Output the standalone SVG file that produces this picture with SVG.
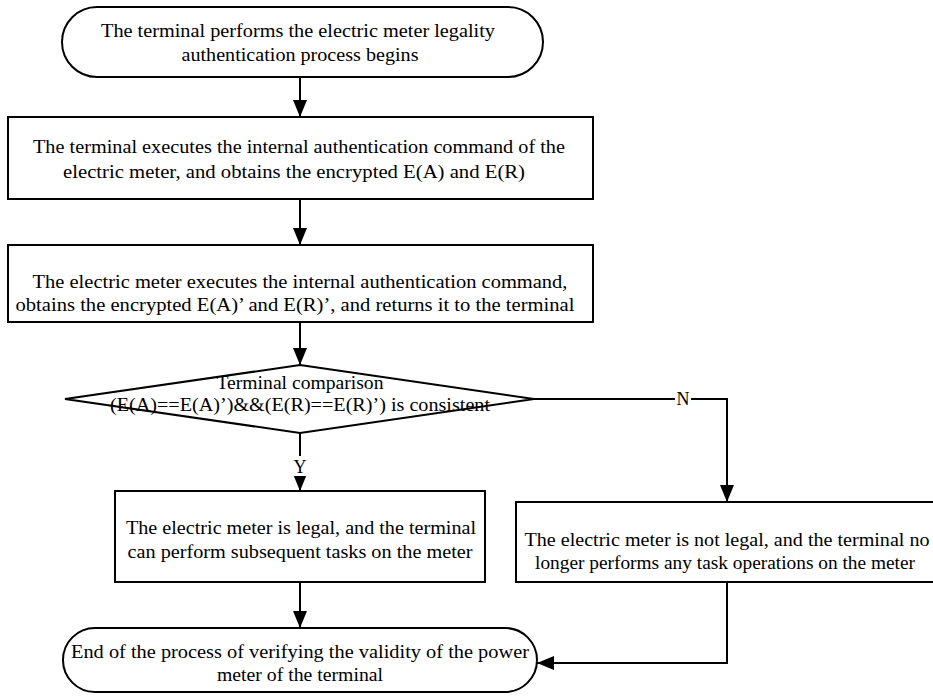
<svg xmlns="http://www.w3.org/2000/svg" width="933" height="699" viewBox="0 0 933 699">
<style>
.s{fill:#fff;stroke:#000;stroke-width:2}
.t{font-family:'Liberation Serif','Times New Roman',serif;font-size:18px;fill:#000;text-anchor:middle}
.c{fill:none;stroke:#000;stroke-width:2}
</style>
<defs>
<marker id="ah" markerWidth="17" markerHeight="14" refX="17" refY="7" orient="auto" markerUnits="userSpaceOnUse">
<path d="M0,0 L17,7 L0,14 Z" fill="#000"/>
</marker>
</defs>
<rect width="933" height="699" fill="#fff"/>
<g id="start">
<rect class="s" x="62" y="7" width="481" height="70" rx="35" ry="35"/>
<text class="t" x="298" y="37" textLength="394" lengthAdjust="spacingAndGlyphs">The terminal performs the electric meter legality</text>
<text class="t" x="300" y="61" textLength="237" lengthAdjust="spacingAndGlyphs">authentication process begins</text>
</g>
<g id="box1">
<rect class="s" x="8" y="117" width="585" height="82"/>
<text class="t" x="299" y="153" textLength="532" lengthAdjust="spacingAndGlyphs">The terminal executes the internal authentication command of the</text>
<text class="t" x="294" y="178" textLength="462" lengthAdjust="spacingAndGlyphs">electric meter, and obtains the encrypted E(A) and E(R)</text>
</g>
<g id="box2">
<rect class="s" x="8" y="245" width="585" height="77"/>
<text class="t" x="300" y="288" textLength="535" lengthAdjust="spacingAndGlyphs">The electric meter executes the internal authentication command,</text>
<text class="t" x="295" y="311" textLength="559" lengthAdjust="spacingAndGlyphs">obtains the encrypted E(A)’ and E(R)’, and returns it to the terminal</text>
</g>
<g id="decision">
<polygon class="s" points="300,365 534,399 300,433 65,399"/>
<text class="t" x="300" y="389" textLength="167" lengthAdjust="spacingAndGlyphs">Terminal comparison</text>
<text class="t" x="300" y="411" textLength="380" lengthAdjust="spacingAndGlyphs">(E(A)==E(A)’)&amp;&amp;(E(R)==E(R)’) is consistent</text>
</g>
<g id="legal">
<rect class="s" x="115" y="491" width="370" height="91"/>
<text class="t" x="301" y="534" textLength="350" lengthAdjust="spacingAndGlyphs">The electric meter is legal, and the terminal</text>
<text class="t" x="300" y="558" textLength="345" lengthAdjust="spacingAndGlyphs">can perform subsequent tasks on the meter</text>
</g>
<g id="illegal">
<rect class="s" x="516" y="502" width="420" height="80"/>
<text class="t" x="727" y="546" textLength="405" lengthAdjust="spacingAndGlyphs">The electric meter is not legal, and the terminal no</text>
<text class="t" x="725" y="569" textLength="380" lengthAdjust="spacingAndGlyphs">longer performs any task operations on the meter</text>
</g>
<g id="end">
<rect class="s" x="63" y="628" width="474" height="64" rx="32" ry="32"/>
<text class="t" x="300" y="658" textLength="458" lengthAdjust="spacingAndGlyphs">End of the process of verifying the validity of the power</text>
<text class="t" x="300" y="681" textLength="166" lengthAdjust="spacingAndGlyphs">meter of the terminal</text>
</g>
<g id="connectors">
<line class="c" x1="300" y1="77" x2="300" y2="117" marker-end="url(#ah)"/>
<line class="c" x1="300" y1="199" x2="300" y2="245" marker-end="url(#ah)"/>
<line class="c" x1="300" y1="322" x2="300" y2="365" marker-end="url(#ah)"/>
<line class="c" x1="300" y1="433" x2="300" y2="491" marker-end="url(#ah)"/>
<polyline class="c" points="534,399 727,399 727,502" marker-end="url(#ah)"/>
<line class="c" x1="300" y1="582" x2="300" y2="628" marker-end="url(#ah)"/>
<polyline class="c" points="727,582 727,663 537,663" marker-end="url(#ah)"/>
<rect x="293" y="456" width="14" height="20" fill="#fff"/>
<text class="t" x="300" y="473">Y</text>
<rect x="675" y="389" width="16" height="20" fill="#fff"/>
<text class="t" x="683" y="405">N</text>
</g>
</svg>
